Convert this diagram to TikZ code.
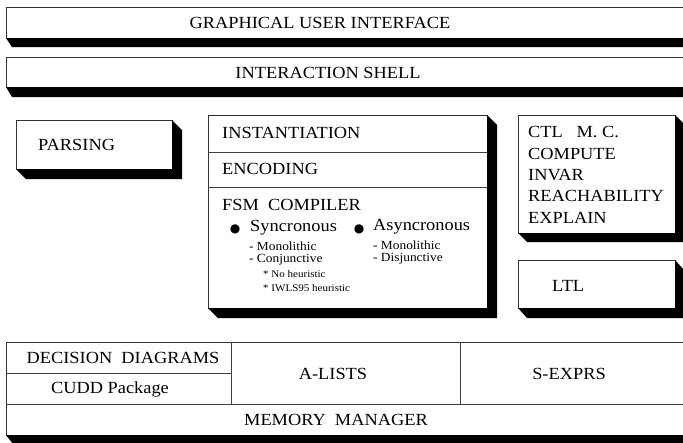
\documentclass[tikz,border=0pt]{standalone}
\usepackage{fontspec}
\setmainfont[FakeStretch=1.08]{Liberation Serif}
\newfontfamily\symfont{DejaVu Sans}
\usetikzlibrary{calc}
\newcommand\dropshadow[3]{\fill[black] (#1.south west) -- ++(#2,#3) -- ($(#1.south east)+(#2,#3)$) -- ($(#1.north east)+(#2,#3)$) -- (#1.north east) -- (#1.south east) -- cycle;}
\begin{document}
\begin{tikzpicture}[x=1pt,y=-1pt,
  panel/.style={draw=black!80, line width=0.9pt, fill=white, inner sep=0pt, outer sep=0pt, anchor=north west},
  sep/.style={draw=black!75, line width=0.9pt},
  big/.style={inner sep=0pt, font=\fontsize{17}{20}\selectfont},
  mid/.style={inner sep=0pt, font=\fontsize{12.4}{14}\selectfont, anchor=west},
  small/.style={inner sep=0pt, font=\fontsize{10.2}{11}\selectfont, anchor=west},
  lft/.style={big, anchor=west},
  dot/.style={inner sep=0pt, font=\symfont\fontsize{12}{12}\selectfont}
]
\useasboundingbox (0,0) rectangle (683,442);
\clip (0,0) rectangle (683,442);
% top bars
\node[panel, minimum width=720pt, minimum height=31pt] (gui) at (6,7) {};
\dropshadow{gui}{6}{9}
\node[big] (guit) at (320,23) {GRAPHICAL USER INTERFACE};
\node[panel, minimum width=720pt, minimum height=30pt] (shell) at (6,57) {};
\dropshadow{shell}{6}{10}
\node[big] (shellt) at (328,73) {INTERACTION SHELL};
% parsing
\node[panel, minimum width=156pt, minimum height=49pt] (pars) at (16,120) {};
\dropshadow{pars}{10}{10}
\node[lft] (parst) at (38,145) {PARSING};
% middle
\node[panel, minimum width=279pt, minimum height=193pt] (fsm) at (208,115) {};
\dropshadow{fsm}{10}{10}
\coordinate (d1) at (208,152);
\coordinate (d2) at (208,187);
\draw[sep] (d1) -- (d1 -| fsm.east);
\draw[sep] (d2) -- (d2 -| fsm.east);
\node[lft] (inst) at (222,133) {INSTANTIATION};
\node[lft] (enc) at (222,169) {ENCODING};
\node[lft] (comp) at (222,205) {FSM\ \ COMPILER};
\node[dot] (b1) at (235,229) {●};
\node[lft] (sync) at (250,228) {Syncronous};
\node[dot] (b2) at (359,229) {●};
\node[lft] (async) at (373,227) {Asyncronous};
\node[mid] (s1) at (249,246) {- Monolithic};
\node[mid] (s2) at (249,260) {- Conjunctive};
\node[small] (s3) at (263,274) {* No heuristic};
\node[small] (s4) at (263,288) {* IWLS95 heuristic};
\node[mid] (a1) at (373,245) {- Monolithic};
\node[mid] (a2) at (373,259) {- Disjunctive};
% right
\node[panel, minimum width=157pt, minimum height=118pt] (ctl) at (518,115) {};
\dropshadow{ctl}{9}{9}
\node[lft] (c1) at (528,132) {CTL\ \ \ M. C.};
\node[lft] (c2) at (528,154) {COMPUTE};
\node[lft] (c3) at (528,175) {INVAR};
\node[lft] (c4) at (528,196) {REACHABILITY};
\node[lft] (c5) at (528,218) {EXPLAIN};
\node[panel, minimum width=157pt, minimum height=48pt] (ltl) at (518,260) {};
\dropshadow{ltl}{9}{10}
\node[lft] (ltlt) at (552,286) {LTL};
% bottom
\node[panel, minimum width=720pt, minimum height=93pt] (mem) at (6,342) {};
\dropshadow{mem}{7}{9}
\coordinate (v1) at (231,342);
\coordinate (v2) at (460,342);
\coordinate (h1) at (6,404);
\coordinate (h2) at (6,373);
\draw[sep] (h1) -- (h1 -| mem.east);
\draw[sep] (h2) -- (h2 -| v1);
\draw[sep] (v1) -- (v1 |- h1);
\draw[sep] (v2) -- (v2 |- h1);
\node[big] (dd) at (123,358) {DECISION\ \ DIAGRAMS};
\node[big] (cudd) at (110,389) {CUDD Package};
\node[big] (al) at (333,374) {A-LISTS};
\node[big] (se) at (569,374) {S-EXPRS};
\node[big] (mm) at (336,420) {MEMORY\ \ MANAGER};
\end{tikzpicture}
\end{document}
